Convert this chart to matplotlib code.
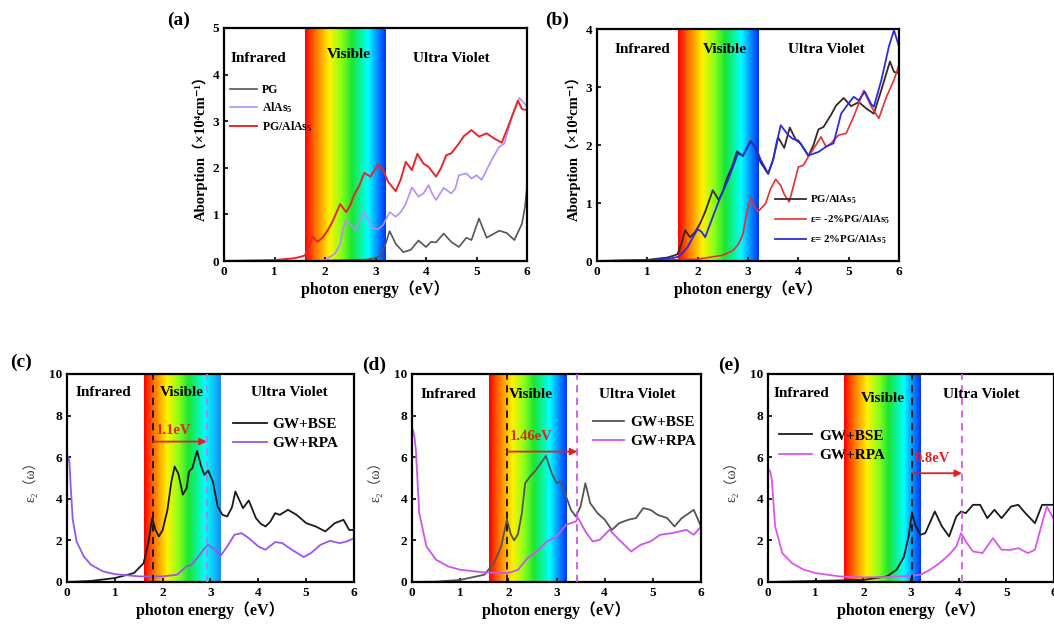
import numpy as np
import matplotlib
matplotlib.use('Agg')
import matplotlib.pyplot as plt
from matplotlib.colors import LinearSegmentedColormap

plt.rcParams['font.family'] = ['Liberation Serif', 'Noto Sans CJK SC', 'DejaVu Sans']
plt.rcParams['font.weight'] = 'bold'
plt.rcParams['mathtext.fontset'] = 'custom'
plt.rcParams['mathtext.rm'] = 'Liberation Serif:bold'
plt.rcParams['mathtext.default'] = 'rm'

# ---------------- data: panel (a) ----------------
pg_x = [0, 1.0, 2.0, 2.8, 3.0, 3.1, 3.2, 3.28, 3.4, 3.55, 3.7, 3.85, 4.0, 4.1, 4.2, 4.35, 4.5, 4.65,
        4.8, 4.9, 5.05, 5.2, 5.45, 5.6, 5.75, 5.9, 5.96, 6.0]
pg_y = [0.0, 0.0, 0.01, 0.03, 0.06, 0.12, 0.37, 0.64, 0.37, 0.19, 0.24, 0.44, 0.3, 0.41, 0.4, 0.59,
        0.41, 0.3, 0.5, 0.45, 0.91, 0.5, 0.65, 0.6, 0.45, 0.8, 1.16, 1.6]

alas5_x = [0, 1.5, 2.0, 2.2, 2.3, 2.36, 2.42, 2.5, 2.6, 2.7, 2.78, 2.85, 2.95, 3.05, 3.15, 3.28, 3.4,
           3.5, 3.6, 3.72, 3.85, 3.95, 4.05, 4.12, 4.2, 4.35, 4.5, 4.58, 4.65, 4.8, 4.9, 5.0, 5.1,
           5.2, 5.3, 5.45, 5.55, 5.7, 5.85, 5.95, 6.0]
alas5_y = [0, 0, 0.02, 0.16, 0.37, 0.7, 0.88, 0.78, 0.66, 0.9, 1.04, 0.9, 0.7, 0.68, 0.77, 1.05, 0.95,
           1.05, 1.23, 1.58, 1.38, 1.45, 1.63, 1.45, 1.31, 1.57, 1.45, 1.55, 1.84, 1.88, 1.77, 1.84,
           1.74, 1.95, 2.17, 2.45, 2.52, 3.1, 3.5, 3.38, 3.3]

pgalas5_x = [0, 1.0, 1.4, 1.55, 1.6, 1.68, 1.75, 1.85, 1.95, 2.05, 2.15, 2.3, 2.42, 2.5, 2.58, 2.68,
             2.78, 2.9, 3.05, 3.15, 3.25, 3.4, 3.5, 3.6, 3.72, 3.83, 3.95, 4.05, 4.2, 4.3, 4.4, 4.5,
             4.65, 4.75, 4.9, 5.05, 5.2, 5.35, 5.5, 5.65, 5.82, 5.9, 6.0]
pgalas5_y = [0.0, 0.02, 0.06, 0.1, 0.12, 0.3, 0.53, 0.41, 0.5, 0.65, 0.85, 1.22, 1.05, 1.2, 1.42, 1.62,
             1.89, 1.81, 2.07, 1.95, 1.7, 1.5, 1.75, 2.13, 1.95, 2.3, 2.09, 2.02, 1.81, 2.0, 2.27, 2.31,
             2.52, 2.68, 2.81, 2.67, 2.74, 2.63, 2.54, 2.95, 3.44, 3.26, 3.24]

# ---------------- data: panel (b) ----------------
epsm2_x = [0, 1.0, 2.0, 2.5, 2.7, 2.82, 2.9, 2.98, 3.05, 3.12, 3.2, 3.35, 3.45, 3.55, 3.65, 3.72, 3.82,
           3.92, 4.0, 4.1, 4.2, 4.35, 4.45, 4.55, 4.65, 4.8, 4.95, 5.1, 5.3, 5.45, 5.6, 5.75, 5.9, 6.0]
epsm2_y = [0, 0.01, 0.03, 0.1, 0.18, 0.3, 0.47, 0.85, 1.09, 0.95, 0.85, 0.99, 1.25, 1.41, 1.3, 1.15, 1.02,
           1.35, 1.62, 1.65, 1.8, 2.0, 2.14, 1.97, 2.03, 2.17, 2.2, 2.49, 2.94, 2.66, 2.46, 2.83, 3.12, 3.38]

epsp2_x = [0, 1.0, 1.5, 1.6, 1.7, 1.8, 1.9, 2.0, 2.08, 2.15, 2.3, 2.45, 2.6, 2.7, 2.8, 2.9, 3.05, 3.15,
           3.25, 3.4, 3.5, 3.55, 3.65, 3.8, 3.9, 4.0, 4.2, 4.3, 4.4, 4.55, 4.7, 4.85, 5.0, 5.1, 5.2,
           5.32, 5.45, 5.5, 5.65, 5.8, 5.9, 6.0]
epsp2_y = [0, 0.01, 0.05, 0.07, 0.14, 0.24, 0.4, 0.55, 0.5, 0.41, 0.76, 1.1, 1.39, 1.62, 1.85, 1.82, 2.05,
           1.97, 1.75, 1.51, 1.75, 1.97, 2.34, 2.17, 2.1, 2.08, 1.82, 1.85, 1.88, 1.97, 2.03, 2.54, 2.72,
           2.83, 2.77, 2.92, 2.7, 2.66, 3.12, 3.7, 3.98, 3.7]

# ---------------- data: panel (c) ----------------
bse_c_x = [0, 0.5, 1.0, 1.4, 1.6, 1.7, 1.78, 1.85, 1.92, 2.0, 2.1, 2.18, 2.25, 2.33, 2.42, 2.5, 2.55,
           2.62, 2.72, 2.8, 2.87, 2.95, 3.05, 3.15, 3.25, 3.35, 3.45, 3.52, 3.6, 3.68, 3.8, 3.95, 4.05,
           4.15, 4.25, 4.35, 4.45, 4.62, 4.8, 5.0, 5.2, 5.4, 5.6, 5.78, 5.9, 6.0]
bse_c_y = [0, 0.05, 0.19, 0.43, 0.9, 1.87, 3.07, 2.5, 2.19, 2.5, 3.47, 4.8, 5.55, 5.2, 4.2, 4.5, 5.31,
           5.47, 6.3, 5.6, 5.15, 5.36, 4.83, 3.63, 3.23, 3.15, 3.6, 4.35, 3.95, 3.55, 3.92, 3.07, 2.8,
           2.67, 2.9, 3.31, 3.23, 3.47, 3.23, 2.83, 2.67, 2.43, 2.83, 2.99, 2.5, 2.5]
rpa_c_x = [0.02, 0.05, 0.08, 0.12, 0.2, 0.35, 0.5, 0.75, 1.0, 1.5, 2.0, 2.3, 2.5, 2.6, 2.75, 2.85, 2.95,
           3.1, 3.2, 3.35, 3.5, 3.65, 3.8, 4.0, 4.15, 4.35, 4.5, 4.7, 4.95, 5.1, 5.3, 5.5, 5.7, 5.85, 6.0]
rpa_c_y = [6.03, 5.8, 4.5, 3.0, 1.95, 1.23, 0.83, 0.51, 0.38, 0.27, 0.27, 0.35, 0.75, 0.83, 1.23, 1.55,
           1.79, 1.55, 1.23, 1.71, 2.27, 2.35, 2.11, 1.71, 1.55, 1.92, 1.87, 1.55, 1.2, 1.39, 1.79, 1.98,
           1.87, 1.95, 2.11]

# ---------------- data: panel (d) ----------------
bse_d_x = [0, 0.5, 1.0, 1.5, 1.7, 1.85, 1.97, 2.05, 2.12, 2.2, 2.28, 2.35, 2.45, 2.55, 2.65, 2.78, 2.9,
           3.0, 3.08, 3.2, 3.3, 3.4, 3.5, 3.6, 3.7, 3.85, 4.0, 4.15, 4.3, 4.5, 4.65, 4.8, 4.95, 5.1,
           5.3, 5.45, 5.6, 5.85, 6.0]
bse_d_y = [0, 0.02, 0.1, 0.35, 0.9, 1.7, 3.0, 2.3, 2.0, 2.3, 3.3, 4.75, 5.07, 5.31, 5.63, 6.06, 5.23,
           4.75, 4.83, 4.11, 3.47, 3.15, 3.63, 4.75, 3.79, 3.31, 3.0, 2.5, 2.83, 3.0, 3.07, 3.55, 3.47,
           3.23, 3.07, 2.67, 3.07, 3.47, 2.67]
rpa_d_x = [0.02, 0.05, 0.08, 0.15, 0.3, 0.5, 0.75, 1.0, 1.5, 2.0, 2.2, 2.4, 2.6, 2.8, 3.0, 3.2, 3.4,
           3.45, 3.6, 3.75, 3.9, 4.1, 4.3, 4.55, 4.75, 4.95, 5.15, 5.4, 5.7, 5.85, 6.0]
rpa_d_y = [7.31, 7.0, 6.35, 3.31, 1.71, 1.07, 0.75, 0.59, 0.46, 0.43, 0.59, 1.15, 1.47, 1.95, 2.19,
           2.75, 2.91, 3.07, 2.43, 1.95, 2.03, 2.51, 2.03, 1.47, 1.79, 1.95, 2.27, 2.35, 2.51, 2.27, 2.67]

# ---------------- data: panel (e) ----------------
bse_e_x = [0, 1.0, 2.0, 2.5, 2.7, 2.85, 2.95, 3.02, 3.1, 3.2, 3.3, 3.5, 3.65, 3.8, 3.95, 4.05, 4.15,
           4.3, 4.45, 4.6, 4.75, 4.9, 5.1, 5.25, 5.4, 5.6, 5.75, 6.0]
bse_e_y = [0, 0.05, 0.1, 0.27, 0.6, 1.2, 2.2, 3.31, 2.67, 2.27, 2.35, 3.39, 2.67, 2.19, 3.15, 3.39,
           3.31, 3.71, 3.71, 3.07, 3.47, 3.07, 3.63, 3.71, 3.31, 2.83, 3.71, 3.71]
rpa_e_x = [0.02, 0.05, 0.08, 0.15, 0.3, 0.5, 0.75, 1.0, 1.5, 2.0, 2.5, 3.0, 3.2, 3.4, 3.6, 3.8, 3.95,
           4.05, 4.15, 4.3, 4.5, 4.72, 4.9, 5.1, 5.25, 5.45, 5.6, 5.75, 5.85, 6.0]
rpa_e_y = [5.39, 5.3, 4.91, 2.67, 1.39, 0.91, 0.59, 0.43, 0.27, 0.22, 0.24, 0.3, 0.35, 0.59, 0.91, 1.31,
           1.71, 2.35, 1.95, 1.47, 1.39, 2.11, 1.55, 1.55, 1.63, 1.39, 1.55, 2.83, 3.63, 3.0]

# shift markers (eV) and labels
shift_c = (1.8, 2.92, '1.1eV')
shift_d = (1.97, 3.43, '1.46eV')
shift_e = (3.02, 4.07, '0.8eV')

region_labels = ['Infrared', 'Visible', 'Ultra Violet']
vis_range = (1.6, 3.2)

# ---------------- figure ----------------
W, H = 1054, 624
fig = plt.figure(figsize=(W / 100, H / 100), dpi=100)


def px_axes(x0, y0, x1, y1):
    return fig.add_axes([x0 / W, 1 - y1 / H, (x1 - x0) / W, (y1 - y0) / H])


spec_cmap = LinearSegmentedColormap.from_list('spec', [
    (0.00, (1.0, 0.0, 0.0)),
    (0.12, (1.0, 0.42, 0.0)),
    (0.30, (1.0, 0.95, 0.0)),
    (0.45, (0.55, 1.0, 0.1)),
    (0.58, (0.1, 0.9, 0.2)),
    (0.78, (0.0, 1.0, 1.0)),
    (0.90, (0.0, 0.55, 1.0)),
    (1.00, (0.0, 0.2, 1.0))])
spec_cmap_c = LinearSegmentedColormap.from_list('spec_c', [
    (0.00, (1.0, 0.0, 0.0)),
    (0.12, (1.0, 0.42, 0.0)),
    (0.30, (1.0, 0.95, 0.0)),
    (0.45, (0.55, 1.0, 0.1)),
    (0.58, (0.1, 0.9, 0.2)),
    (0.80, (0.0, 1.0, 1.0)),
    (1.00, (0.1, 0.55, 0.95))])

lab_fam = ['Liberation Serif', 'Noto Sans CJK SC', 'DejaVu Sans']


def style(ax, ymax, yticks, cmap=spec_cmap):
    ax.set_xlim(0, 6)
    ax.set_ylim(0, ymax)
    ax.set_xticks(range(0, 7))
    ax.set_yticks(yticks)
    grad = np.linspace(0, 1, 256).reshape(1, -1)
    ax.imshow(grad, extent=[vis_range[0], vis_range[1], 0, ymax], aspect='auto',
              cmap=cmap, zorder=0, interpolation='bilinear')
    ax.tick_params(direction='in', length=3, width=1.2, labelsize=9.5, top=False, right=False)
    for lab in ax.get_xticklabels() + ax.get_yticklabels():
        lab.set_fontweight('bold')
    for s in ax.spines.values():
        s.set_linewidth(1.6)
    ax.set_xlabel('photon energy（eV）', fontsize=11.5, fontweight='bold', family=lab_fam, labelpad=2)


def regions(ax, pos, fs=11):
    for (x, y), t in zip(pos, region_labels):
        ax.text(x, y, t, ha='center', va='center', fontsize=fs, fontweight='bold', zorder=5)


# ---- (a)
axa = px_axes(224, 28, 527, 261)
style(axa, 5, range(0, 6))
axa.plot(pg_x, pg_y, color='#555555', lw=1.2, label='PG')
axa.plot(alas5_x, alas5_y, color='#b48cff', lw=1.2, label='AlAs$_5$')
axa.plot(pgalas5_x, pgalas5_y, color='#e8262a', lw=1.4, label='PG/AlAs$_5$')
regions(axa, [(0.69, 4.35), (2.47, 4.43), (4.51, 4.35)])
axa.set_ylabel('Aborption（×10⁴cm⁻¹）', fontsize=10.5, fontweight='bold', family=lab_fam, labelpad=3)
axa.legend(loc='upper left', bbox_to_anchor=(0.02, 0.76), frameon=False, fontsize=8.5,
           handlelength=2.3, handletextpad=0.4, labelspacing=0.35, borderpad=0, borderaxespad=0)
fig.text(167 / W, 1 - 20 / H, '(a)', fontsize=14, fontweight='bold', va='center')

# ---- (b)
axb = px_axes(597, 29, 899, 261)
style(axb, 4, range(0, 5))
axb.plot(pgalas5_x, pgalas5_y, color='#3a2626', lw=1.3, label='PG/AlAs$_5$')
axb.plot(epsm2_x, epsm2_y, color='#e83030', lw=1.2, label='ε= -2%PG/AlAs$_5$')
axb.plot(epsp2_x, epsp2_y, color='#2b2be0', lw=1.3, label='ε= 2%PG/AlAs$_5$')
regions(axb, [(0.91, 3.64), (2.54, 3.64), (4.56, 3.64)])
axb.set_ylabel('Aborption（×10⁴cm⁻¹）', fontsize=10.5, fontweight='bold', family=lab_fam, labelpad=3)
axb.legend(loc='upper left', bbox_to_anchor=(0.59, 0.29), frameon=False, fontsize=7.8,
           handlelength=2.85, handletextpad=0.35, labelspacing=0.7, borderpad=0, borderaxespad=0)
fig.text(545 / W, 1 - 20 / H, '(b)', fontsize=14, fontweight='bold', va='center')


def shift(ax, sh, ya, yl, c2):
    x1, x2, t = sh
    ax.axvline(x1, color='#111111', lw=1.3, ls=(0, (4, 3)), zorder=3)
    ax.axvline(x2, color=c2, lw=1.3, ls=(0, (4, 3)), zorder=3)
    ax.annotate('', xy=(x2, ya), xytext=(x1, ya),
                arrowprops=dict(arrowstyle='-|>', color='#e02020', lw=1.3,
                                shrinkA=0, shrinkB=0, mutation_scale=10), zorder=4)
    ax.text(x1 + 0.05, yl, t, color='#e82020', fontsize=10.5, fontweight='bold',
            ha='left', va='center', zorder=5)


# ---- (c)
axc = px_axes(67, 374, 354, 582)
style(axc, 10, range(0, 11, 2), cmap=spec_cmap_c)
axc.plot(bse_c_x, bse_c_y, color='#1a1a1a', lw=1.3, label='GW+BSE')
axc.plot(rpa_c_x, rpa_c_y, color='#9a55ee', lw=1.3, label='GW+RPA')
shift(axc, shift_c, 6.75, 7.3, '#b080f0')
regions(axc, [(0.77, 9.1), (2.4, 9.1), (4.64, 9.1)])
axc.set_ylabel('ε₂（ω）', fontsize=10, fontweight='normal', family=lab_fam, labelpad=8, color='#333333')
axc.legend(loc='upper left', bbox_to_anchor=(0.58, 0.79), frameon=False, fontsize=11,
           handlelength=2.2, handletextpad=0.35, labelspacing=0.35, borderpad=0, borderaxespad=0)
fig.text(10 / W, 1 - 362 / H, '(c)', fontsize=14, fontweight='bold', va='center')

# ---- (d)
axd = px_axes(412, 374, 701, 582)
style(axd, 10, range(0, 11, 2))
axd.plot(bse_d_x, bse_d_y, color='#555555', lw=1.3, label='GW+BSE')
axd.plot(rpa_d_x, rpa_d_y, color='#cc55ee', lw=1.3, label='GW+RPA')
shift(axd, shift_d, 6.27, 7.0, '#cc55ee')
regions(axd, [(0.76, 9.0), (2.46, 9.0), (4.67, 9.0)])
axd.set_ylabel('ε₂（ω）', fontsize=10, fontweight='normal', family=lab_fam, labelpad=8, color='#333333')
axd.legend(loc='upper left', bbox_to_anchor=(0.628, 0.80), frameon=False, fontsize=11,
           handlelength=2.0, handletextpad=0.4, labelspacing=0.35, borderpad=0, borderaxespad=0)
fig.text(362 / W, 1 - 365 / H, '(d)', fontsize=14, fontweight='bold', va='center')

# ---- (e)
axe = px_axes(768, 374, 1054, 582)
style(axe, 10, range(0, 11, 2))
axe.plot(bse_e_x, bse_e_y, color='#1a1a1a', lw=1.3, label='GW+BSE')
axe.plot(rpa_e_x, rpa_e_y, color='#dd55ee', lw=1.3, label='GW+RPA')
shift(axe, shift_e, 5.23, 5.95, '#dd55ee')
regions(axe, [(0.7, 9.07), (2.41, 8.83), (4.48, 9.0)])
axe.set_ylabel('ε₂（ω）', fontsize=10, fontweight='normal', family=lab_fam, labelpad=8, color='#333333')
axe.legend(loc='upper left', bbox_to_anchor=(0.04, 0.735), frameon=False, fontsize=11,
           handlelength=2.1, handletextpad=0.5, labelspacing=0.35, borderpad=0, borderaxespad=0)
fig.text(718 / W, 1 - 365 / H, '(e)', fontsize=14, fontweight='bold', va='center')

fig.savefig('out.png', dpi=100)
